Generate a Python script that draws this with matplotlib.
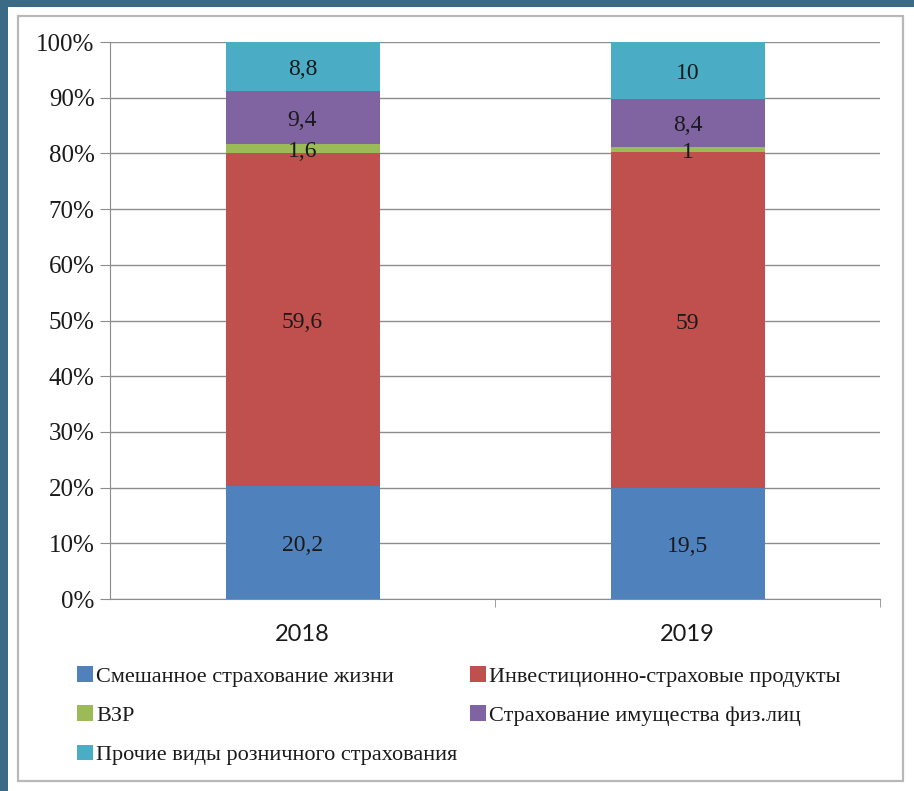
import matplotlib
matplotlib.use("Agg")
import matplotlib.pyplot as plt
from matplotlib.patches import Rectangle, Patch
from matplotlib.ticker import PercentFormatter, FixedLocator
import matplotlib.transforms as mtransforms
import numpy as np

years = ["2018", "2019"]
series_names = [
    "Смешанное страхование жизни",
    "Инвестиционно-страховые продукты",
    "ВЗР",
    "Страхование имущества физ.лиц",
    "Прочие виды розничного страхования",
]
mixed_life = [20.2, 19.5]
invest_ins = [59.6, 59.0]
vzr = [1.6, 1.0]
property_ins = [9.4, 8.4]
other_retail = [8.8, 10.0]
value_labels = [
    ["20,2", "19,5"],
    ["59,6", "59"],
    ["1,6", "1"],
    ["9,4", "8,4"],
    ["8,8", "10"],
]
colors = ["#4F81BD", "#C0504D", "#9BBB59", "#8064A2", "#4BACC6"]

data = np.array([mixed_life, invest_ins, vzr, property_ins, other_retail])
shares = data / data.sum(axis=0) * 100

W, H = 914, 791
fig = plt.figure(figsize=(W / 100, H / 100), dpi=100)
fig.patch.set_facecolor("#3b6a84")
fig.patches.append(Rectangle((8 / W, 0), 1, 1 - 7 / H, transform=fig.transFigure,
                             facecolor="white", edgecolor="none", zorder=-10))
fig.patches.append(Rectangle((18 / W, 1 - 781 / H), (903 - 18) / W, (781 - 16) / H,
                             transform=fig.transFigure, facecolor="none",
                             edgecolor="#b8b8b8", lw=1.6, zorder=-5))

ax = fig.add_axes([110 / W, 1 - 599 / H, 770 / W, 557 / H])
ax.set_facecolor("none")

x = np.arange(len(years))
bottom = np.zeros(len(years))
handles = []
shift = mtransforms.offset_copy(ax.transData, fig=fig, x=0, y=-3, units="dots")
for i, name in enumerate(series_names):
    ax.bar(x, shares[i], 0.4, bottom=bottom, color=colors[i], zorder=3, label=name)
    for j in range(len(years)):
        ax.text(x[j], bottom[j] + shares[i][j] / 2, value_labels[i][j], ha="center",
                va="center", fontsize=17, family="Liberation Serif", color="#1a1a1a",
                zorder=4, transform=shift)
    bottom += shares[i]
    handles.append(Patch(facecolor=colors[i], label=name))

ax.set_xlim(-0.5, 1.5)
ax.set_ylim(0, 100)
ax.yaxis.set_major_locator(FixedLocator(np.arange(0, 101, 10)))
ax.yaxis.set_major_formatter(PercentFormatter(decimals=0))
ax.grid(axis="y", color="#8c8c8c", lw=1.0, zorder=0)
ax.set_axisbelow(True)
for s in ["top", "right"]:
    ax.spines[s].set_visible(False)
ax.spines["left"].set_color("#8c8c8c")
ax.spines["bottom"].set_color("#8c8c8c")
ax.tick_params(axis="y", length=7, color="#8c8c8c", pad=4)
ax.set_xticks(x)
ax.set_xticklabels(years)
ax.tick_params(axis="x", length=0, pad=18)
ax.set_xticks([0.5, 1.5], minor=True)
ax.tick_params(axis="x", which="minor", length=6, color="#8c8c8c")
for lab in ax.get_yticklabels():
    lab.set_fontfamily("Liberation Serif")
    lab.set_fontsize(18)
    lab.set_color("#1a1a1a")
for lab in ax.get_xticklabels():
    lab.set_fontfamily("Lato")
    lab.set_fontsize(17)
    lab.set_color("#1a1a1a")

order = [0, 2, 4, 1, 3]
fig.legend([handles[k] for k in order], [series_names[k] for k in order],
           loc="upper left", bbox_to_anchor=(57 / W, 1 - 646 / H), ncol=2,
           frameon=False, prop={"family": "Liberation Serif", "size": 16},
           handlelength=0.7, handleheight=0.7, handletextpad=0.15,
           columnspacing=0.6, labelspacing=0.85, labelcolor="#1a1a1a")

fig.savefig("out.png", dpi=100, facecolor=fig.get_facecolor())
